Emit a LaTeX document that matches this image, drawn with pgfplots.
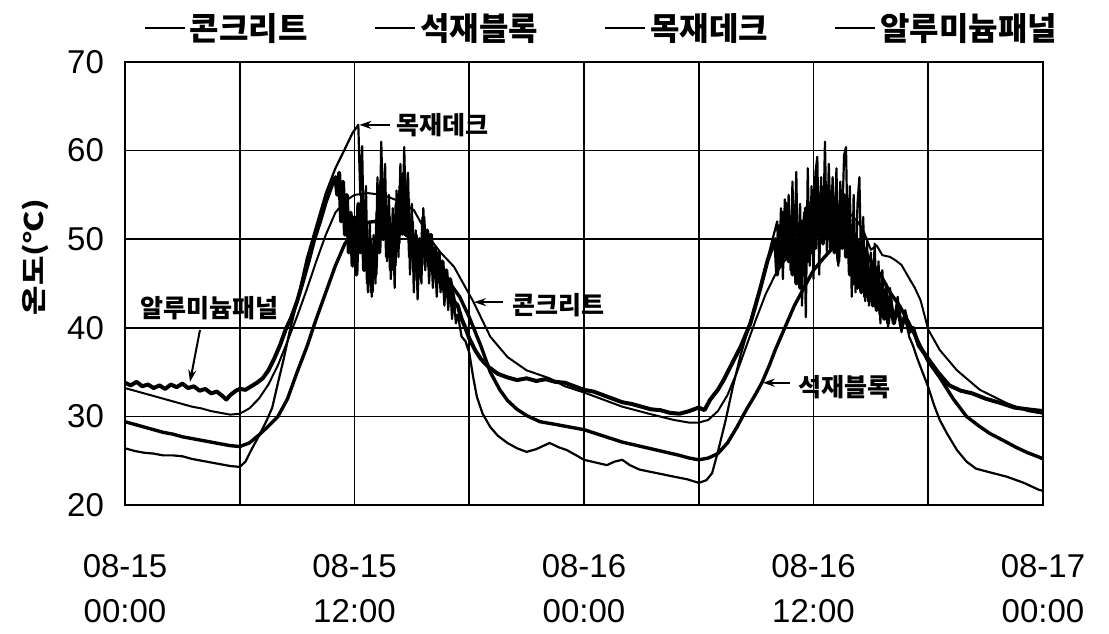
\documentclass[border=0pt]{standalone}
\usepackage{fontspec}
\usepackage{pgfplots}
\pgfplotsset{compat=1.18}
\usetikzlibrary{arrows.meta}
\setmainfont{Liberation Sans}
\newfontfamily\kr{Noto Sans CJK KR}
\begin{document}
\begin{tikzpicture}
\useasboundingbox (-62.5pt,-64pt) rectangle (492pt,252.5pt);
\begin{axis}[
  at={(0,0)}, anchor=south west,
  scale only axis, width=459pt, height=221.5pt,
  xmin=0, xmax=48, ymin=20, ymax=70,
  xtick={0,6,...,48},
  xticklabels={{08-15\\00:00},{},{08-15\\12:00},{},{08-16\\00:00},{},{08-16\\12:00},{},{08-17\\00:00}},
  ytick={20,30,...,70},
  major tick length=0pt,
  xmajorgrids, ymajorgrids,
  grid style={black, line width=0.8pt},
  axis line style={line width=1.3pt},
  xticklabel style={align=center, font=\fontsize{16.5}{22.5}\selectfont, yshift=-21pt},
  yticklabel style={font=\fontsize{16.5}{18}\selectfont, xshift=-7pt},
  /pgf/number format/assume math mode=true,
  ylabel={\scalebox{1}[0.8]{\kr\fontsize{16}{18}\selectfont\bfseries 온도(℃)}},
  ylabel style={at={(axis description cs:-0.098,0.56)}, anchor=center},
  legend style={at={(axis description cs:0.52,1)}, anchor=center, yshift=17pt,
    draw=none, fill=none, legend columns=4,
    font=\kr\fontsize{16}{18}\selectfont\bfseries,
    /tikz/every even column/.append style={column sep=31pt}},
  legend image code/.code={\draw[#1, line width=1.2pt] (0pt,0pt) -- (20pt,0pt);},
  every axis plot/.append style={black, line join=round},
]
% 콘크리트
\addplot[line width=1pt] coordinates {(0,33.2) (0.5,32.9) (1,32.6) (1.5,32.3) (2,32.0) (2.5,31.7) (3,31.4) (3.5,31.1) (4,30.9) (4.5,30.6) (5,30.4) (5.5,30.2) (6,30.3) (6.5,30.9) (7,32.0) (7.5,33.6) (8,35.8) (8.5,38.5) (9,41.3) (9.5,44.3) (10,47.5) (10.5,50.5) (11,53.0) (11.5,54.3) (12,55.0) (12.7,55.2) (13.5,55.0) (14.2,54.4) (15.1,53.3) (15.9,50.2) (16.5,48.5) (17.2,46.9) (18.2,43.0) (19.1,39.0) (20,36.7) (21,35.2) (22.2,34.3) (23,33.4) (24,32.7) (25,31.9) (26,31.1) (27.4,30.3) (28.7,29.6) (29.5,29.3) (30,29.3) (30.5,29.6) (31,30.6) (31.5,32.4) (32,35.0) (32.5,38.0) (33,41.0) (33.5,43.8) (34,46.0) (34.5,47.6) (35,48.6) (35.5,49.4) (36,50.2) (36.7,51.4) (37.3,52.3) (37.9,52.9) (38.3,52.0) (38.6,51.0) (39.0,48.8) (39.3,49.3) (39.6,48.2) (40.0,48.0) (40.3,47.6) (40.6,47.1) (41.0,45.6) (41.3,44.5) (41.6,43.1) (42.0,39.8) (42.6,37.5) (43.5,35.2) (44.7,33.0) (46.1,31.5) (47.2,30.6) (48.0,30.3)};
\addlegendentry{콘크리트}
% 석재블록
\addplot[line width=1.7pt] coordinates {(0,29.4) (0.5,29.1) (1,28.8) (1.5,28.5) (2,28.2) (2.5,28.0) (3,27.7) (3.5,27.5) (4,27.3) (4.5,27.1) (5,26.9) (5.5,26.7) (6,26.6) (6.5,27.0) (7,27.9) (7.5,28.9) (8,30.0) (8.5,32.0) (9,35.0) (9.5,37.8) (10,41.0) (10.5,44.0) (11,47.0) (11.5,49.5) (12,51.0) (12.5,51.8) (13,52.0) (13.5,51.8) (14,51.5) (14.5,50.8) (15,50.0) (15.5,49.0) (16,47.7) (16.5,46.2) (17,45.0) (17.5,43.5) (18,41.2) (18.6,38.0) (19.1,35.0) (19.6,33.0) (20,31.8) (20.5,30.8) (21,30.1) (21.7,29.4) (22.5,29.1) (23,28.9) (24,28.5) (25,27.8) (26,27.1) (27,26.6) (28,26.1) (29,25.6) (29.5,25.3) (30,25.1) (30.5,25.3) (31,25.8) (31.5,27.0) (32,28.8) (32.5,30.8) (33,32.6) (33.3,33.8) (33.7,35.8) (34,37.5) (34.5,40.0) (35,42.5) (35.5,44.5) (36,46.5) (36.5,47.8) (37,49.0) (37.5,49.8) (38,50.2) (38.5,49.5) (39,47.5) (39.5,46.0) (40,44.0) (40.5,42.5) (41,40.5) (41.5,38.3) (42,36.2) (42.6,34.4) (43.3,32.0) (44,30.0) (44.6,29.0) (45.2,28.1) (46,27.2) (46.6,26.5) (47.2,25.9) (47.8,25.4) (48,25.2)};
\addlegendentry{석재블록}
% 목재데크
\addplot[line width=1.1pt] coordinates {(0,26.4) (0.5,26.1) (1,25.9) (1.5,25.8) (2,25.6) (2.5,25.6) (3,25.5) (3.5,25.2) (4,25.0) (4.5,24.8) (5,24.6) (5.5,24.4) (6,24.3) (6.3,24.9) (6.6,26.2) (7.0,27.8) (7.4,29.5) (7.7,31.0) (8.0,33.8) (8.3,36.5) (8.6,39.5) (9.0,43.0) (9.5,47.8) (10.0,51.5) (10.5,55.2) (11.0,58.0) (11.5,60.2) (11.9,62.0) (12.1,62.6) (12.2,62.9)
(12.3,55.0) (12.4,60.5) (12.5,48.0) (12.6,56.0) (12.7,44.0) (12.8,52.0) (12.9,43.5) (13.0,50.5) (13.1,45.0) (13.2,57.0) (13.3,49.0) (13.4,61.0) (13.5,52.0) (13.6,58.5) (13.7,47.5) (13.8,55.0) (13.9,45.5) (14.0,53.5) (14.1,44.5) (14.2,55.5) (14.3,48.0) (14.4,58.5) (14.5,50.5) (14.6,60.4) (14.7,51.0) (14.8,57.5) (14.9,46.0) (15.0,54.0) (15.1,44.0) (15.2,51.0) (15.3,43.2) (15.4,49.0) (15.5,45.0) (15.6,53.5) (15.7,46.5) (15.8,51.0) (15.9,45.0) (16.0,49.5) (16.1,44.5) (16.2,48.5) (16.3,43.5) (16.4,48.0) (16.5,44.0) (16.6,47.0) (16.7,42.5) (16.8,46.0) (16.9,42.0) (17.0,45.0) (17.1,41.0) (17.2,43.5) (17.3,40.5) (17.4,41.5) (17.6,39.0) (17.8,38.5) (18.0,37.2) (18.2,34.5) (18.4,32.2) (18.7,30.3) (19.1,28.8) (19.5,27.8) (20.0,27.0) (20.5,26.4) (21.0,26.0) (21.5,26.3) (22.2,27.0) (22.7,26.5) (23.1,26.2) (23.6,25.6) (24.0,25.1) (24.6,24.8) (25.2,24.5) (25.6,24.9) (26.0,25.1) (26.4,24.5) (26.9,24.0) (27.8,23.6) (28.7,23.2) (29.4,22.9) (30.0,22.5)
(30.4,22.8) (30.7,23.6) (31.0,26.0) (31.4,29.5) (31.8,33.5) (32.2,37.0) (32.6,40.0) (33.0,43.0) (33.4,46.0) (33.8,49.5) (34.1,52.0)
(34.2,47.0) (34.3,53.5) (34.4,45.5) (34.5,54.5) (34.6,48.0) (34.7,55.0) (34.8,46.5) (34.9,56.5) (35.0,47.5) (35.1,57.6) (35.2,45.0) (35.3,54.0) (35.4,42.5) (35.5,53.0) (35.6,41.2) (35.7,58.0) (35.8,47.0) (35.9,56.0) (36.0,45.5) (36.1,57.5) (36.2,59.3) (36.3,46.0) (36.4,57.0) (36.5,50.0) (36.6,61.0) (36.7,48.5) (36.8,58.5) (36.9,51.0) (37.0,57.0) (37.1,49.5) (37.2,58.0) (37.3,47.0) (37.4,56.5) (37.5,52.0) (37.6,59.5) (37.7,60.4) (37.8,48.0) (37.9,56.0) (38.0,43.5) (38.1,55.0) (38.2,44.0) (38.3,54.0) (38.4,57.0) (38.5,46.0) (38.6,52.5) (38.7,43.0) (38.8,50.0) (38.9,42.5) (39.0,48.5) (39.1,44.0) (39.2,49.5) (39.3,42.0) (39.4,47.5) (39.5,40.5) (39.6,46.5) (39.7,41.5) (39.8,45.0) (39.9,40.0) (40.0,44.5) (40.2,40.5) (40.4,43.5) (40.6,39.5) (40.8,42.0) (41.0,39.0) (41.2,38.0) (41.4,36.7) (41.7,35.0) (42.0,33.3) (42.3,31.3) (42.6,29.6) (43.0,28.0) (43.5,26.2) (44.0,24.9) (44.5,24.1) (45.2,23.7) (46.1,23.2) (47.0,22.5) (47.8,21.7) (48.0,21.6)};
\addlegendentry{목재데크}
% 알루미늄패널
\addplot[line width=2pt] coordinates {(0,33.8) (0.3,33.5) (0.6,33.9) (0.9,33.4) (1.2,33.6) (1.5,33.2) (1.8,33.5) (2.1,33.1) (2.4,33.6) (2.7,33.3) (3.0,33.7) (3.3,33.2) (3.6,33.4) (3.9,32.9) (4.2,33.1) (4.5,32.6) (4.8,32.8) (5.1,32.3) (5.3,31.9) (5.5,32.4) (5.8,32.9) (6.0,33.1) (6.3,33.0) (6.6,33.4) (6.9,33.8) (7.2,34.3) (7.5,35.2) (7.8,36.5) (8.1,38.0) (8.4,39.8) (8.7,41.2) (9.0,43.0) (9.3,45.2) (9.6,47.5) (9.9,50.0) (10.2,52.0) (10.5,54.2) (10.8,56.0) (11.0,57.0)
(11.1,55.0) (11.2,57.5) (11.3,52.0) (11.4,56.5) (11.5,50.5) (11.6,55.0) (11.7,48.5) (11.8,53.0) (11.9,47.0) (12.0,52.5) (12.1,46.0) (12.2,54.0) (12.3,48.5) (12.4,55.0) (12.5,46.5) (12.6,52.0) (12.7,45.0) (12.8,50.0) (12.9,44.0) (13.0,49.0) (13.1,46.0) (13.2,53.0) (13.3,48.5) (13.4,56.5) (13.5,50.0) (13.6,55.0) (13.7,48.0) (13.8,52.5) (13.9,46.5) (14.0,51.0) (14.1,47.0) (14.2,54.0) (14.3,49.5) (14.4,56.0) (14.5,51.0) (14.6,57.5) (14.7,50.5) (14.8,54.5) (14.9,48.0) (15.0,52.0) (15.1,46.5) (15.2,50.5) (15.3,45.5) (15.4,50.0) (15.5,47.0) (15.6,52.5) (15.7,48.5) (15.8,51.0) (15.9,47.0) (16.0,50.5) (16.1,46.5) (16.2,49.0) (16.3,45.5) (16.4,48.5) (16.5,45.0) (16.6,47.5) (16.7,44.0) (16.8,46.5) (16.9,43.5) (17.0,45.5) (17.2,43.0) (17.4,42.5) (17.6,41.0) (17.8,40.0) (18.0,38.8) (18.3,37.5) (18.6,36.5) (19.0,35.6) (19.5,34.8) (20.0,34.4) (20.5,34.1) (21.0,34.3) (21.5,34.0) (22.0,34.2) (22.5,33.9) (23.0,33.8) (23.5,33.4) (24.0,33.0) (24.5,32.8) (25.0,32.4) (25.5,32.0) (26.0,31.6) (26.5,31.4) (27.0,31.1) (27.5,30.8) (28.0,30.7) (28.5,30.4) (29.0,30.3) (29.5,30.6) (30.0,31.0) (30.3,30.7) (30.6,31.9) (31.0,33.0) (31.3,34.1) (31.7,35.8) (32.2,37.9) (32.7,40.5) (33.2,44.3) (33.6,47.6) (34.0,50.0)
(34.1,46.0) (34.2,51.5) (34.3,47.0) (34.4,53.0) (34.5,48.0) (34.6,54.0) (34.7,47.5) (34.8,52.5) (34.9,46.0) (35.0,51.0) (35.1,45.0) (35.2,50.0) (35.3,44.5) (35.4,52.0) (35.5,46.5) (35.6,53.5) (35.7,47.5) (35.8,54.0) (35.9,48.5) (36.0,55.5) (36.1,49.0) (36.2,56.0) (36.3,50.5) (36.4,55.0) (36.5,49.5) (36.6,54.5) (36.7,50.0) (36.8,55.5) (36.9,49.0) (37.0,54.0) (37.1,48.5) (37.2,53.5) (37.3,47.5) (37.4,54.0) (37.5,49.0) (37.6,55.0) (37.7,48.0) (37.8,53.0) (37.9,46.0) (38.0,51.5) (38.1,45.0) (38.2,50.0) (38.3,44.5) (38.4,49.5) (38.5,44.0) (38.6,48.5) (38.7,43.5) (38.8,47.5) (38.9,43.0) (39.0,46.5) (39.1,42.5) (39.2,46.0) (39.3,42.0) (39.4,45.5) (39.5,41.5) (39.6,44.5) (39.7,41.0) (39.8,44.0) (39.9,40.5) (40.0,43.5) (40.2,40.5) (40.4,42.5) (40.6,40.0) (40.8,41.5) (41.0,39.5) (41.2,40.0) (41.5,38.0) (42.0,36.5) (42.5,35.0) (43.1,33.5) (43.7,32.9) (44.3,32.6) (45.0,32.0) (45.8,31.5) (46.5,31.0) (47.2,30.8) (48.0,30.6)};
\addlegendentry{알루미늄패널}
% annotations
\draw[line width=1pt, -{Stealth[length=6pt,width=4pt]}] (axis cs:13.86,62.9) -- (axis cs:12.25,62.9);
\node[anchor=west, inner sep=0pt, font=\kr\fontsize{12.5}{14}\selectfont\bfseries] at (axis cs:14.2,62.9) {목재데크};
\draw[line width=1pt, -{Stealth[length=6pt,width=4pt]}] (axis cs:19.76,42.9) -- (axis cs:18.25,42.9);
\node[anchor=west, inner sep=0pt, font=\kr\fontsize{12.5}{14}\selectfont\bfseries] at (axis cs:20.24,42.6) {콘크리트};
\draw[line width=1pt, -{Stealth[length=6pt,width=4pt]}] (axis cs:34.77,33.8) -- (axis cs:33.35,33.8);
\node[anchor=west, inner sep=0pt, font=\kr\fontsize{12.5}{14}\selectfont\bfseries] at (axis cs:35.2,33.3) {석재블록};
\draw[line width=1pt, -{Stealth[length=6pt,width=4pt]}] (axis cs:3.92,39.75) -- (axis cs:3.4,33.9);
\node[inner sep=0pt, font=\kr\fontsize{12.5}{14}\selectfont\bfseries] at (axis cs:4.44,42.2) {알루미늄패널};
\end{axis}
\end{tikzpicture}
\end{document}
